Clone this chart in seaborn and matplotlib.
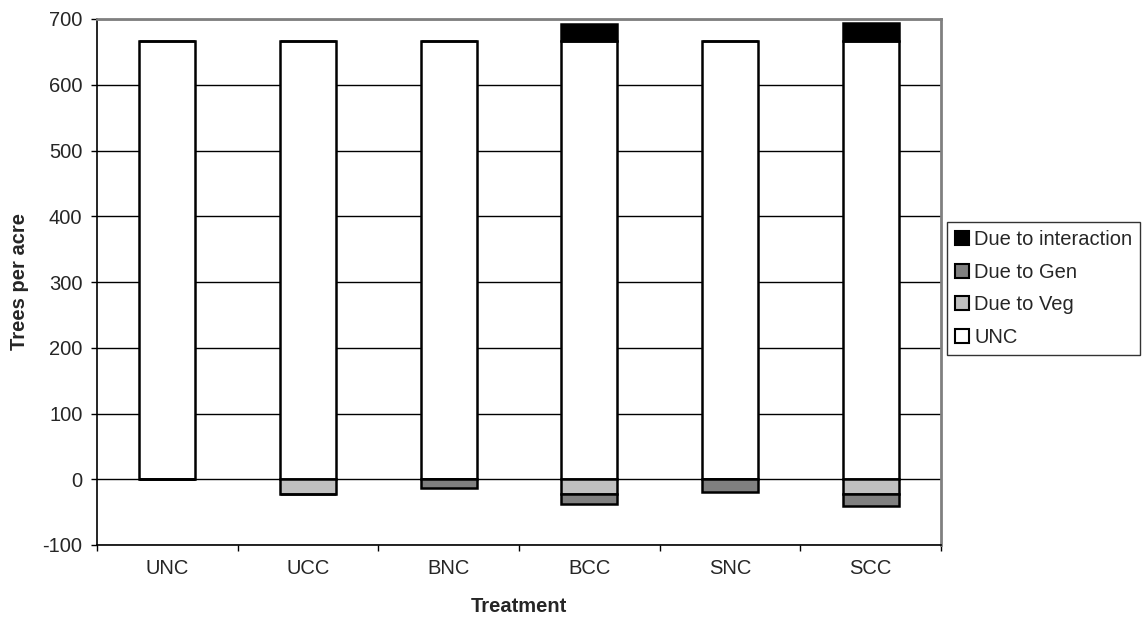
import matplotlib
matplotlib.use("Agg")
import matplotlib.pyplot as plt
import seaborn as sns
from matplotlib.patches import Patch
from matplotlib.ticker import FixedLocator

# ---- data ----
treatments = ["UNC", "UCC", "BNC", "BCC", "SNC", "SCC"]
unc_vals = [667, 667, 667, 667, 667, 667]
veg_vals = [0, -23, 0, -23, 0, -23]
gen_vals = [0, 0, -14, -14, -19, -17]
inter_vals = [0, 0, 0, 26, 0, 27]
y_ticks = [-100, 0, 100, 200, 300, 400, 500, 600, 700]

sns.set_theme(style="white")
plt.rcParams["font.family"] = ["Liberation Sans", "DejaVu Sans"]
FS = 14.5

fig = plt.figure(figsize=(11.42, 6.25), dpi=100)
ax = fig.add_axes([97 / 1142, 1 - 545 / 625, (941 - 97) / 1142, (545 - 19) / 625])

bar_kw = dict(width=0.4, edgecolor="black", linewidth=1.8, saturation=1, ax=ax)
sns.barplot(x=treatments, y=unc_vals, color="white", **bar_kw)
sns.barplot(x=treatments, y=veg_vals, color="#C0C0C0", bottom=[0] * 6, **bar_kw)
sns.barplot(x=treatments, y=gen_vals, color="#808080", bottom=veg_vals, **bar_kw)
sns.barplot(x=treatments, y=inter_vals, color="black", bottom=unc_vals, **bar_kw)

ax.set_ylim(-100, 700)
ax.set_xlim(-0.5, len(treatments) - 0.5)
ax.set_yticks(y_ticks)
ax.set_yticklabels([str(v) for v in y_ticks], fontsize=FS)
ax.yaxis.grid(True, color="black", linewidth=1)
ax.set_axisbelow(True)

# x ticks at category boundaries, labels at centres
centres = list(range(len(treatments)))
ax.xaxis.set_major_locator(FixedLocator([i - 0.5 for i in range(len(treatments) + 1)]))
ax.xaxis.set_minor_locator(FixedLocator(centres))
ax.set_xticklabels([], minor=False)
ax.set_xticklabels(treatments, minor=True, fontsize=FS)
ax.tick_params(axis="x", which="major", direction="out", length=4.5, width=1, color="black", bottom=True)
ax.tick_params(axis="x", which="minor", length=0, pad=10, bottom=True)
ax.tick_params(axis="y", direction="out", length=4.5, width=1, color="black", pad=6, left=True)

for side in ["left", "bottom"]:
    ax.spines[side].set_color("black")
    ax.spines[side].set_linewidth(1.2)
for side in ["top", "right"]:
    ax.spines[side].set_color("#808080")
    ax.spines[side].set_linewidth(2)

ax.set_xlabel("Treatment", fontsize=FS, fontweight="bold", labelpad=14)
ax.set_ylabel("Trees per acre", fontsize=FS, fontweight="bold", labelpad=10)

handles = [
    Patch(facecolor="black", edgecolor="black", linewidth=1.5, label="Due to interaction"),
    Patch(facecolor="#808080", edgecolor="black", linewidth=1.5, label="Due to Gen"),
    Patch(facecolor="#C0C0C0", edgecolor="black", linewidth=1.5, label="Due to Veg"),
    Patch(facecolor="white", edgecolor="black", linewidth=1.5, label="UNC"),
]
leg = fig.legend(handles=handles, loc="upper left",
                 bbox_to_anchor=(947 / 1142, 1 - 222 / 625),
                 bbox_transform=fig.transFigure, fontsize=FS,
                 frameon=True, fancybox=False, borderaxespad=0,
                 handlelength=0.7, handleheight=0.7, handletextpad=0.25,
                 labelspacing=0.68, borderpad=0.4)
leg.get_frame().set_edgecolor("black")
leg.get_frame().set_linewidth(1)

fig.savefig("out.png", dpi=100)
